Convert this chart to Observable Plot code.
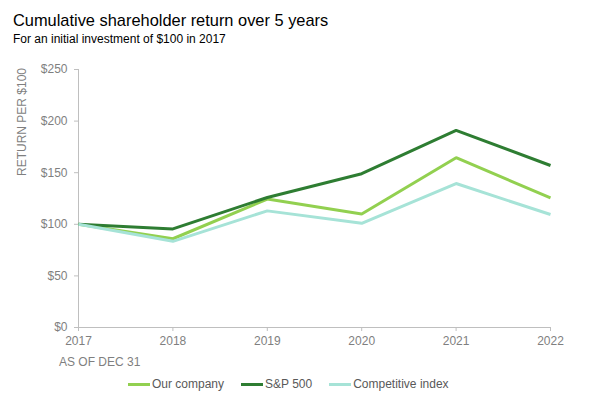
<!DOCTYPE html>
<html>
<head>
<meta charset="utf-8">
<script src="https://cdn.jsdelivr.net/npm/d3@7"></script>
<script src="https://cdn.jsdelivr.net/npm/@observablehq/plot@0.6"></script>
<style>
  body { margin: 0; width: 589px; height: 398px; position: relative; background: #fff; font-family: "Liberation Sans", Arial, sans-serif; overflow: hidden; }
  .abs { position: absolute; white-space: nowrap; }
  #title { left: 13px; top: 11px; font-size: 16.4px; color: #000; }
  #subtitle { left: 13px; top: 32px; font-size: 12px; color: #000; }
  #ylabel { left: 22px; top: 122px; font-size: 12px; color: #7f7f7f; transform: translate(-50%, -50%) rotate(-90deg); }
  #xnote { left: 59px; top: 355px; font-size: 12px; color: #7f7f7f; }
  #chart { left: 0; top: 50px; }
  #legend { left: 128px; top: 377px; display: flex; gap: 17px; font-size: 12px; color: #595959; }
  .item { display: flex; align-items: center; }
  .sw { width: 22px; height: 3px; margin-right: 2px; }
</style>
</head>
<body>
<div id="title" class="abs">Cumulative shareholder return over 5 years</div>
<div id="subtitle" class="abs">For an initial investment of $100 in 2017</div>
<div id="ylabel" class="abs">RETURN PER $100</div>
<div id="chart" class="abs"></div>
<div id="xnote" class="abs">AS OF DEC 31</div>
<div id="legend" class="abs"></div>
<script>
const years = [2017, 2018, 2019, 2020, 2021, 2022];
const seriesNames = ["Our company", "S&P 500", "Competitive index"];
const ourCompany = [100, 86, 124.5, 110, 164.5, 125.5];
const sp500 = [100, 95.5, 126, 149, 191, 157];
const competitive = [100, 83.5, 113, 101, 139.5, 109.5];
const colors = ["#92d050", "#2e7d32", "#a6e3d7"];
const yTicks = [0, 50, 100, 150, 200, 250];

const allValues = [ourCompany, sp500, competitive];
const rows = [];
seriesNames.forEach((name, i) => {
  years.forEach((yr, j) => rows.push({ series: name, year: yr, value: allValues[i][j] }));
});

const gray = "#bfbfbf";
const textGray = "#7f7f7f";

const plot = Plot.plot({
  width: 589,
  height: 300,
  marginTop: 19,
  marginBottom: 23,
  marginLeft: 78,
  marginRight: 39,
  style: { fontFamily: "Liberation Sans, Arial, sans-serif", fontSize: "12px", color: textGray, background: "transparent" },
  x: { domain: [2017, 2022], ticks: years, tickFormat: d => String(d) },
  y: { domain: [0, 250], ticks: yTicks, tickFormat: d => "$" + d },
  color: { domain: seriesNames, range: colors },
  marks: [
    Plot.ruleY([0], { stroke: gray, strokeWidth: 1 }),
    Plot.ruleX([2017], { stroke: gray, strokeWidth: 1 }),
    Plot.axisX({ ticks: years, tickFormat: d => String(d), tickSize: 4, tickPadding: 5, stroke: gray, fill: textGray, label: null }),
    Plot.axisY({ ticks: yTicks, tickFormat: d => "$" + d, tickSize: 4, tickPadding: 7, stroke: gray, fill: textGray, label: null }),
    Plot.line(rows, { x: "year", y: "value", stroke: "series", z: "series", strokeWidth: 3, strokeLinejoin: "miter", strokeLinecap: "butt" })
  ]
});
document.getElementById("chart").appendChild(plot);

const legend = document.getElementById("legend");
seriesNames.forEach((name, i) => {
  const item = document.createElement("div");
  item.className = "item";
  const sw = document.createElement("div");
  sw.className = "sw";
  sw.style.background = colors[i];
  const t = document.createElement("span");
  t.textContent = name;
  item.appendChild(sw);
  item.appendChild(t);
  legend.appendChild(item);
});
</script>
</body>
</html>
